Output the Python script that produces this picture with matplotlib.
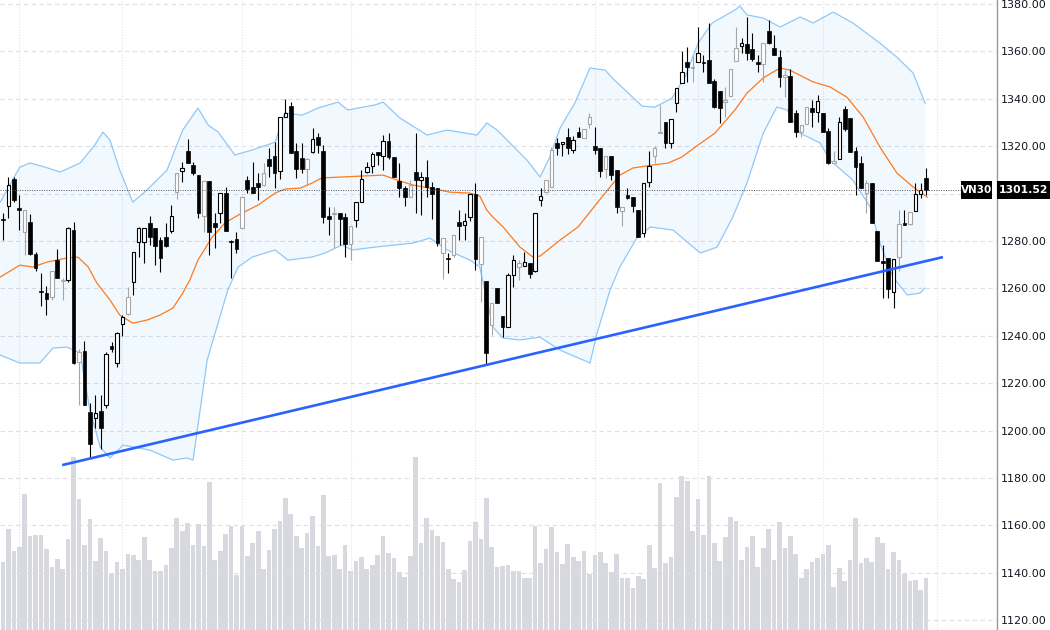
import numpy as np
import matplotlib
matplotlib.use("Agg")
import matplotlib.pyplot as plt
from matplotlib.patches import Rectangle

# VN30 daily bars
opens = [1289.2, 1294.7, 1306.0, 1293.9, 1283.6, 1288.1, 1274.7, 1259.0, 1257.9, 1256.4,
         1271.9, 1263.6, 1263.5, 1284.6, 1229.0, 1233.5, 1207.6, 1205.1, 1208.3, 1210.7,
         1235.8, 1228.3, 1244.8, 1249.1, 1262.8, 1279.7, 1279.7, 1287.4, 1285.3, 1280.6,
         1281.8, 1284.2, 1300.8, 1309.6, 1318.1, 1311.9, 1307.8, 1290.5, 1305.3, 1287.4,
         1291.6, 1300.1, 1280.0, 1280.7, 1285.6, 1305.7, 1302.6, 1304.3, 1303.6, 1314.4,
         1315.8, 1309.5, 1332.2, 1336.9, 1318.1, 1314.9, 1310.2, 1317.5, 1324.0, 1317.9,
         1290.5, 1291.5, 1291.9, 1290.0, 1278.7, 1288.8, 1296.3, 1309.2, 1311.6, 1317.4,
         1315.9, 1322.3, 1315.3, 1305.3, 1302.2, 1298.4, 1309.3, 1305.7, 1306.9, 1302.6,
         1302.2, 1274.8, 1272.7, 1274.1, 1288.1, 1286.7, 1290.0, 1299.8, 1270.3, 1263.1,
         1244.5, 1260.0, 1248.3, 1243.8, 1265.6, 1269.1, 1269.4, 1270.6, 1267.5, 1297.3,
         1300.8, 1302.9, 1321.2, 1320.9, 1323.7, 1318.4, 1326.1, 1323.3, 1329.4, 1320.1,
         1319.1, 1310.2, 1315.9, 1310.0, 1292.8, 1299.4, 1298.4, 1293.0, 1283.5, 1305.0,
         1315.9, 1325.4, 1330.4, 1321.5, 1338.1, 1346.8, 1355.4, 1352.9, 1355.7, 1355.7,
         1356.4, 1347.7, 1343.5, 1338.8, 1341.2, 1356.0, 1362.3, 1363.1, 1360.9, 1355.7,
         1354.7, 1368.6, 1361.6, 1357.8, 1349.4, 1349.6, 1334.2, 1326.1, 1329.2, 1336.3,
         1334.6, 1334.2, 1326.4, 1313.1, 1314.5, 1335.6, 1331.8, 1318.0, 1313.1, 1300.1,
         1304.3, 1284.4, 1271.7, 1272.7, 1258.6, 1273.1, 1287.4, 1287.0, 1292.7, 1299.8,
         1306.4]
highs = [1291.6, 1307.1, 1307.1, 1299.4, 1293.0, 1291.3, 1275.4, 1266.3, 1261.0, 1267.3,
         1276.8, 1264.2, 1285.7, 1288.1, 1234.6, 1237.7, 1211.4, 1215.0, 1215.0, 1233.2,
         1237.5, 1241.7, 1248.7, 1260.7, 1275.2, 1286.0, 1285.3, 1290.5, 1285.3, 1281.8,
         1287.7, 1295.1, 1308.8, 1313.4, 1322.9, 1313.5, 1307.8, 1305.3, 1305.3, 1291.6,
         1300.1, 1302.9, 1280.4, 1283.9, 1298.4, 1307.4, 1313.5, 1308.8, 1312.7, 1319.1,
         1321.9, 1332.2, 1339.8, 1338.8, 1321.5, 1321.5, 1314.9, 1327.5, 1325.4, 1320.5,
         1294.4, 1294.4, 1291.9, 1291.9, 1286.3, 1296.3, 1309.9, 1313.5, 1317.7, 1317.4,
         1324.7, 1325.4, 1315.3, 1312.8, 1303.2, 1305.7, 1325.4, 1309.3, 1314.2, 1305.0,
         1302.2, 1281.1, 1274.8, 1282.5, 1293.1, 1291.7, 1299.8, 1304.3, 1281.5, 1263.1,
         1253.7, 1260.0, 1248.3, 1266.6, 1274.1, 1272.0, 1275.5, 1270.6, 1292.0, 1302.2,
         1305.7, 1319.8, 1323.3, 1321.9, 1327.5, 1324.3, 1328.0, 1327.3, 1334.2, 1328.0,
         1319.1, 1315.9, 1315.9, 1310.0, 1294.2, 1302.2, 1298.4, 1293.1, 1304.3, 1318.1,
         1320.1, 1337.4, 1330.4, 1331.3, 1344.4, 1360.3, 1361.7, 1358.1, 1370.5, 1358.5,
         1372.2, 1348.2, 1343.5, 1345.1, 1352.5, 1370.5, 1365.5, 1374.4, 1367.9, 1358.5,
         1363.4, 1373.3, 1367.0, 1360.6, 1352.2, 1352.5, 1335.3, 1329.0, 1336.4, 1339.5,
         1341.6, 1334.2, 1327.5, 1318.1, 1332.2, 1337.0, 1331.8, 1319.5, 1315.9, 1305.7,
         1304.3, 1284.4, 1278.3, 1272.7, 1272.2, 1293.1, 1293.1, 1292.4, 1304.3, 1304.6,
         1310.7]
lows = [1280.4, 1289.5, 1296.5, 1284.6, 1274.0, 1274.0, 1267.4, 1252.5, 1248.7, 1255.0,
        1264.5, 1255.0, 1262.8, 1228.0, 1210.7, 1210.7, 1188.2, 1200.9, 1192.4, 1209.3,
        1233.2, 1226.6, 1239.8, 1248.7, 1257.2, 1273.3, 1270.8, 1278.3, 1269.8, 1267.0,
        1277.6, 1283.2, 1297.5, 1305.0, 1312.7, 1307.8, 1289.5, 1283.9, 1274.0, 1276.9,
        1287.4, 1284.3, 1264.2, 1274.8, 1285.6, 1300.4, 1300.1, 1297.3, 1303.2, 1307.1,
        1302.2, 1306.0, 1332.2, 1317.0, 1306.4, 1308.8, 1303.6, 1317.0, 1317.0, 1287.7,
        1282.5, 1276.9, 1278.3, 1273.1, 1271.9, 1286.0, 1296.3, 1308.5, 1308.5, 1312.1,
        1310.0, 1314.5, 1306.9, 1298.7, 1294.8, 1298.4, 1291.7, 1291.0, 1298.7, 1289.1,
        1277.9, 1263.8, 1266.6, 1273.4, 1280.4, 1280.4, 1288.6, 1267.7, 1254.4, 1227.6,
        1240.3, 1253.7, 1239.3, 1243.8, 1260.4, 1263.5, 1269.4, 1264.2, 1267.0, 1294.8,
        1300.8, 1302.9, 1316.3, 1315.9, 1316.7, 1317.3, 1324.0, 1323.3, 1327.5, 1316.7,
        1307.1, 1306.4, 1305.7, 1292.0, 1286.3, 1297.6, 1292.4, 1281.5, 1281.8, 1302.9,
        1312.8, 1325.4, 1319.1, 1319.1, 1334.6, 1346.8, 1347.3, 1347.3, 1355.7, 1351.5,
        1346.8, 1336.0, 1329.7, 1332.2, 1341.2, 1356.0, 1359.5, 1356.4, 1356.1, 1351.5,
        1347.3, 1363.1, 1358.5, 1345.1, 1340.6, 1330.0, 1323.7, 1323.7, 1329.2, 1328.0,
        1330.4, 1326.1, 1312.5, 1313.1, 1314.5, 1326.6, 1317.7, 1299.4, 1302.5, 1291.7,
        1287.4, 1271.6, 1255.8, 1255.8, 1251.5, 1267.5, 1286.7, 1286.7, 1292.7, 1298.0,
        1299.4]
closes = [1288.8, 1303.6, 1297.2, 1293.0, 1293.0, 1274.7, 1268.4, 1258.5, 1255.3, 1267.3,
          1264.5, 1263.2, 1285.3, 1228.3, 1233.2, 1210.7, 1194.5, 1207.2, 1200.9, 1232.5,
          1234.2, 1241.3, 1247.7, 1256.2, 1275.2, 1285.3, 1285.3, 1281.8, 1278.0, 1272.9,
          1277.8, 1290.5, 1308.8, 1310.6, 1312.7, 1308.8, 1291.9, 1305.3, 1283.9, 1285.7,
          1300.1, 1284.3, 1279.7, 1276.4, 1298.4, 1301.8, 1300.4, 1302.9, 1308.5, 1311.6,
          1308.8, 1332.2, 1334.1, 1317.0, 1310.2, 1310.2, 1314.4, 1322.9, 1320.5, 1290.2,
          1289.1, 1291.8, 1289.2, 1278.7, 1286.3, 1296.3, 1306.0, 1311.1, 1316.7, 1316.3,
          1322.3, 1315.6, 1307.1, 1302.2, 1298.4, 1303.6, 1305.7, 1306.9, 1302.6, 1299.8,
          1279.0, 1281.1, 1272.2, 1282.5, 1286.3, 1288.4, 1299.8, 1272.2, 1281.5, 1232.6,
          1253.7, 1254.0, 1243.8, 1265.6, 1272.0, 1270.6, 1271.0, 1265.9, 1292.0, 1299.1,
          1305.7, 1318.4, 1319.1, 1321.6, 1319.1, 1322.6, 1324.0, 1327.3, 1332.2, 1318.4,
          1309.7, 1315.9, 1307.9, 1294.5, 1294.2, 1298.0, 1294.8, 1281.8, 1304.3, 1311.7,
          1319.1, 1326.1, 1321.5, 1331.3, 1344.4, 1351.2, 1353.3, 1353.3, 1359.5, 1355.0,
          1346.8, 1336.4, 1336.0, 1339.5, 1352.5, 1361.3, 1363.4, 1359.2, 1356.7, 1354.6,
          1363.4, 1363.4, 1358.5, 1349.4, 1350.1, 1330.0, 1326.1, 1329.0, 1336.4, 1334.6,
          1339.1, 1326.1, 1313.1, 1313.9, 1330.1, 1327.1, 1317.7, 1311.1, 1302.5, 1304.3,
          1287.4, 1271.6, 1270.8, 1259.6, 1272.2, 1287.0, 1286.7, 1292.4, 1299.7, 1301.5,
          1301.52]
volume = [68, 101, 79, 83, 136, 94, 95, 95, 81, 63,
          71, 61, 91, 173, 131, 85, 111, 69, 92, 79,
          56, 68, 61, 76, 75, 70, 93, 70, 59, 59,
          65, 82, 112, 99, 107, 85, 106, 84, 148, 70,
          79, 96, 104, 55, 104, 74, 87, 99, 61, 80,
          101, 109, 132, 116, 94, 82, 97, 114, 84, 135,
          74, 75, 61, 85, 59, 69, 73, 61, 65, 75,
          94, 77, 72, 58, 53, 74, 173, 87, 112, 100,
          94, 88, 61, 51, 48, 60, 89, 108, 91, 132,
          83, 63, 64, 65, 59, 59, 52, 52, 104, 67,
          81, 103, 78, 66, 86, 73, 69, 79, 56, 75,
          78, 67, 58, 76, 52, 52, 42, 54, 51, 85,
          62, 147, 67, 73, 133, 154, 149, 99, 131, 95,
          154, 87, 69, 93, 113, 109, 70, 83, 94, 63,
          82, 101, 70, 108, 82, 94, 76, 52, 61, 68,
          72, 76, 85, 43, 62, 49, 70, 112, 67, 72,
          68, 93, 87, 61, 78, 70, 56, 49, 50, 40,
          52]
last_price = 1301.52
month_starts = [3, 22, 44, 64, 87, 109, 128, 151, 172]

# 20-day SMA and Bollinger bands as drawn (bar index, price)
ma_x = [-0.5, 3.1, 5.5, 8.1, 11.8, 13.8, 15.7, 17.3, 19.7, 21.5,
        23.9, 26.5, 28.9, 31.3, 33.1, 34.4, 35.9, 38.5, 40.9, 43.3,
        47.0, 50.1, 51.9, 54.7, 56.9, 58.7, 62.4, 66.1, 70.0, 72.6,
        75.5, 78.6, 82.3, 86.0, 87.8, 89.1, 90.2, 92.1, 95.2, 97.6,
        98.9, 102.6, 105.9, 109.4, 111.8, 113.6, 116.0, 119.5, 122.5, 125.0,
        128.0, 131.1, 134.8, 137.0, 140.0, 143.1, 144.9, 149.2, 152.3, 155.4,
        158.4, 161.5, 164.6, 167.6, 170.2]
ma_y = [1264.8, 1269.8, 1269.0, 1271.1, 1272.8, 1273.2, 1269.0, 1262.2, 1255.1, 1248.7,
        1245.3, 1246.6, 1248.7, 1251.7, 1258.0, 1263.5, 1271.9, 1281.6, 1287.6, 1290.9,
        1295.2, 1300.2, 1301.9, 1302.3, 1304.4, 1306.6, 1307.0, 1307.4, 1307.8, 1305.7,
        1303.6, 1302.3, 1300.6, 1300.2, 1299.0, 1293.0, 1290.1, 1285.9, 1277.4, 1273.2,
        1273.6, 1280.4, 1285.9, 1296.0, 1302.8, 1307.8, 1310.8, 1312.0, 1312.9, 1315.4,
        1320.5, 1325.5, 1335.3, 1342.4, 1348.8, 1353.0, 1352.1, 1347.1, 1345.0, 1340.7,
        1332.3, 1319.6, 1308.7, 1302.8, 1298.5]
bb_up_x = [-0.5, 3.1, 5.0, 7.7, 10.5, 14.2, 16.9, 18.4, 19.7, 21.5,
           23.9, 26.5, 30.2, 33.1, 35.9, 37.8, 39.6, 42.7, 45.9, 50.1,
           51.9, 55.1, 58.0, 61.7, 63.5, 68.5, 70.0, 73.1, 78.1, 81.8,
           87.3, 89.1, 91.0, 96.5, 98.9, 100.7, 102.6, 105.3, 108.1, 110.9,
           112.2, 117.7, 120.1, 123.2, 125.6, 128.0, 130.6, 134.8, 135.7, 137.0,
           140.0, 143.1, 146.8, 149.2, 152.9, 156.5, 161.5, 164.6, 167.6, 169.8]
bb_up_y = [1296.4, 1311.2, 1312.9, 1311.2, 1309.1, 1312.9, 1320.5, 1326.0, 1322.6, 1309.9,
           1296.4, 1301.5, 1309.9, 1326.8, 1336.1, 1328.9, 1326.0, 1316.3, 1318.4, 1321.7,
           1334.0, 1333.1, 1336.1, 1338.6, 1335.3, 1337.4, 1338.6, 1331.9, 1324.7, 1326.8,
           1324.7, 1329.8, 1326.8, 1314.1, 1307.0, 1315.4, 1327.7, 1338.2, 1353.0, 1352.1,
           1348.8, 1336.9, 1336.5, 1340.3, 1349.2, 1363.5, 1372.0, 1377.5, 1379.2, 1375.4,
           1374.1, 1370.3, 1374.5, 1372.0, 1376.6, 1372.0, 1363.5, 1357.6, 1350.9, 1338.2]
bb_lo_x = [-0.5, 3.1, 6.8, 9.2, 11.8, 14.2, 16.0, 17.9, 19.7, 22.1,
           27.1, 31.3, 33.9, 35.0, 37.6, 41.4, 43.3, 45.9, 50.1, 52.5,
           56.9, 59.3, 62.4, 64.3, 68.5, 75.5, 78.6, 81.8, 86.0, 87.8,
           90.2, 92.1, 95.2, 98.9, 102.6, 108.1, 109.4, 111.8, 113.6, 116.8,
           119.2, 123.4, 128.4, 131.5, 134.4, 137.0, 140.0, 142.5, 144.4, 146.8,
           150.5, 152.3, 156.5, 159.7, 161.5, 163.9, 166.5, 168.9, 169.8]
bb_lo_y = [1231.8, 1228.5, 1228.5, 1234.8, 1235.2, 1232.7, 1208.6, 1193.0, 1188.4, 1193.8,
           1191.7, 1187.5, 1188.4, 1187.5, 1229.7, 1259.3, 1269.0, 1273.2, 1276.2, 1271.9,
           1273.2, 1274.9, 1278.3, 1276.2, 1277.4, 1279.1, 1281.2, 1276.2, 1271.9, 1269.0,
           1243.7, 1239.0, 1238.2, 1239.4, 1233.9, 1228.5, 1241.1, 1259.3, 1269.0, 1281.6,
           1285.9, 1284.6, 1274.9, 1277.4, 1290.1, 1304.4, 1325.5, 1336.5, 1335.3, 1325.5,
           1321.3, 1314.1, 1305.7, 1294.3, 1279.1, 1264.8, 1257.2, 1258.0, 1260.1]
# support trend line through the two swing lows
trend_x = [10.9, 173.1]
trend_y = [1185.4, 1273.2]

# candles drawn in grey on the chart
grey_days = [4, 9, 11, 14, 23, 32, 37, 44, 48, 56, 61, 64, 75, 81, 83, 88, 90, 95,
             100, 101, 107, 108, 111, 114, 120, 121, 127, 133, 134, 135, 140, 144,
             147, 148, 153, 159, 165, 167]

BLACK, GREY = "#000000", "#a6a6a6"
W, H = 1050, 630
plot_w = 997

fig = plt.figure(figsize=(W / 100, H / 100), dpi=100)
ax_v = fig.add_axes([0, 0, plot_w / W, 1])
ax = ax_v.twinx()

o, h, l, c = (np.asarray(a) for a in (opens, highs, lows, closes))
idx = np.arange(len(c))
col = np.where(np.isin(idx, grey_days), GREY, BLACK)
up = c > o

# ------------------------------------------------------------- volume
ax_v.bar(idx, volume, width=0.86, color="#d8d9de", lw=0)
ax_v.set_ylim(0, max(volume) / 0.2746)
ax_v.set_axis_off()

# ------------------------------------------------------------- grid
ax.set_yticks(np.arange(1120, 1381, 20))
ax.set_axisbelow(True)
ax.grid(axis="y", color="#dcdee4", lw=0.8, ls=(0, (4, 3)))
for m in month_starts:
    ax.axvline(m, color="#e2e4ea", lw=0.8, ls=(0, (1, 1.5)), zorder=0.6)

# ------------------------------------------------------------- bands + MA
ax.fill(np.r_[bb_up_x, bb_lo_x[::-1]], np.r_[bb_up_y, bb_lo_y[::-1]],
        color="#2196f3", alpha=0.06, lw=0, zorder=1)
ax.plot(bb_up_x, bb_up_y, color="#90c8f8", lw=0.9, zorder=2)
ax.plot(bb_lo_x, bb_lo_y, color="#90c8f8", lw=0.9, zorder=2)
ax.plot(ma_x, ma_y, color="#ff7a1a", lw=0.9, zorder=2)

# ------------------------------------------------------------- candles
ax.vlines(idx, l, h, colors=col, lw=0.8, zorder=3)
lo_b = np.minimum(o, c)
hgt = np.maximum(np.abs(c - o), 0.45)
ax.bar(idx[up], hgt[up], bottom=lo_b[up], width=0.64, facecolor="white",
       edgecolor=col[up], lw=0.8, zorder=4)
ax.bar(idx[~up], hgt[~up], bottom=lo_b[~up], width=0.7, facecolor=col[~up],
       edgecolor=col[~up], lw=0.5, zorder=4)

ax.plot(trend_x, trend_y, color="#2962ff", lw=1.9, zorder=6,
        solid_capstyle="butt")

# ------------------------------------------------------------- last price
ax.axhline(last_price, xmax=961 / plot_w, color="#50535e", lw=0.7,
           ls=(0, (1, 1.5)), zorder=5)
tr = ax.get_yaxis_transform()
ax.add_patch(Rectangle((961 / plot_w, last_price - 3.6), 31 / plot_w, 7.2,
                       transform=tr, facecolor="black", clip_on=False,
                       zorder=10))
ax.text(976.5 / plot_w, last_price, "VN30", transform=tr, color="white",
        fontsize=7.5, fontweight="bold", ha="center", va="center", zorder=11)
ax.add_patch(Rectangle((1.0, last_price - 3.6), 53 / plot_w, 7.2,
                       transform=tr, facecolor="black", clip_on=False,
                       zorder=10))
ax.text(1023.5 / plot_w, last_price, f"{last_price:.2f}", transform=tr,
        color="white", fontsize=7.8, fontweight="bold", ha="center",
        va="center", zorder=11, clip_on=False)


# the tick label under the price tag is hidden by it on the chart
def price_fmt(v, _):
    return "" if abs(v - last_price) < 6 else f"{v:.2f}"


# ------------------------------------------------------------- axes
ax.set_xlim(-0.55, 183.05)
ax.set_ylim(1115.8, 1381.7)
ax.yaxis.set_major_formatter(plt.FuncFormatter(price_fmt))
ax.tick_params(axis="y", length=0, pad=3, labelsize=8, labelcolor="#131722")
for s in ("top", "left", "bottom"):
    ax.spines[s].set_visible(False)
ax.spines["right"].set_color("#9598a1")
ax.spines["right"].set_linewidth(1)

fig.savefig("out.png", dpi=100)
